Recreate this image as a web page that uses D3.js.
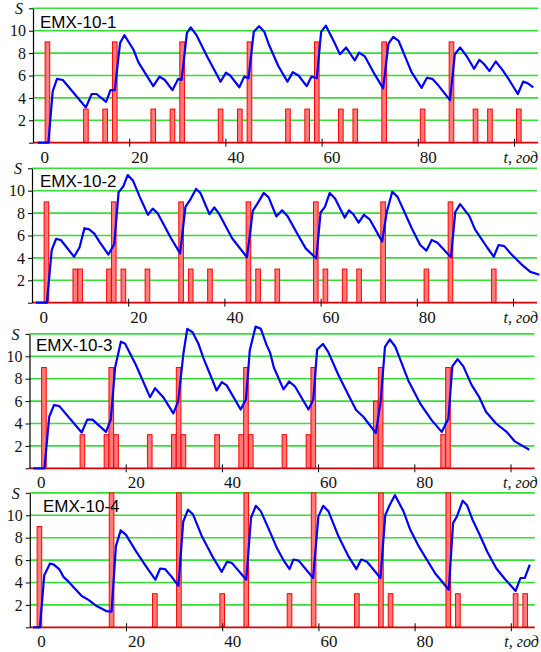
<!DOCTYPE html>
<html>
<head>
<meta charset="utf-8">
<script src="https://cdn.jsdelivr.net/npm/d3@7"></script>
<style>
  body { margin: 0; background: #fff; }
  svg { display: block; }
</style>
</head>
<body>
<svg id="chart" width="541" height="652"></svg>
<script>
// panel names
const names = ["EMX-10-1", "EMX-10-2", "EMX-10-3", "EMX-10-4"];

// axis ticks
const sTicks = [0, 2, 4, 6, 8, 10, 12];
const tTicks = [0, 20, 40, 60, 80, 100];
const tLabels = ["0", "20", "40", "60", "80", "t, год"];

// S(t) curves, [t, S]
const line1 = [[1,0],[3.2,0],[4.1,4.6],[5,5.7],[6.2,5.6],[11,3.15],[12.2,4.35],[13.2,4.35],[15.2,3.65],[16.1,4.7],[17,4.7],[18.1,8.9],[19,9.6],[20.9,8.3],[21.9,7.2],[25,5.05],[26.3,5.9],[27.4,5.6],[29,4.7],[30.2,5.7],[30.9,5.6],[32,9.8],[32.8,10.3],[34,9.6],[36.2,7.7],[39,5.45],[40.1,6.25],[41,6],[42.9,4.95],[43.9,5.9],[44.8,5.75],[45.9,9.9],[47,10.4],[48.1,9.9],[49.1,8.7],[51,6.85],[52.9,5.45],[54,6.3],[55.2,6],[56.9,5.05],[57.9,5.9],[59,5.75],[59.9,9.9],[60.9,10.45],[62.6,9],[63.8,7.9],[65.1,8.5],[66.9,7.35],[67.8,8.05],[69,7.7],[71.1,6.05],[72.8,4.85],[73.9,8.85],[74.9,9.45],[76,9.1],[78.7,6.3],[80.8,4.9],[81.9,5.8],[83,5.7],[84.3,5.1],[86.7,3.8],[87.7,7.9],[88.8,8.5],[90.2,7.7],[91.7,6.6],[92.8,7.4],[93.8,7],[94.9,6.4],[96.2,7.25],[97.6,6.5],[99,5.6],[100.8,4.35],[101.9,5.45],[102.9,5.3],[104,4.95]];
const line2 = [[0.8,0],[3.1,0],[4.1,4.7],[5,5.7],[6,5.6],[8.75,4.1],[9.9,4.95],[10.9,6.65],[11.9,6.55],[13,6.15],[14,5.45],[15.9,4.3],[17.1,5.25],[18,9.85],[19,10.4],[19.9,11.4],[21,10.9],[22.4,9.45],[24.1,7.85],[25.1,8.4],[26.1,8],[28.9,5.75],[30.8,4.4],[31.9,8.55],[32.9,9.2],[34.1,10.15],[35,9.8],[36.9,7.9],[37.9,8.5],[38.8,8],[41.6,5.75],[44.7,4.05],[45.9,8.2],[46.8,8.8],[48.2,9.8],[49.2,9.4],[50.8,7.7],[52,8.25],[53.1,7.75],[55.1,6.2],[56.9,4.85],[59.1,3.95],[60,8.05],[60.9,8.55],[61.9,9.8],[63,9.3],[65,7.6],[65.9,8.25],[66.8,7.9],[67.9,7.15],[69,7.85],[70.2,7.45],[72.8,5.45],[73.75,8.1],[74.9,9.9],[76,9.45],[78.95,6.65],[80.7,5.15],[82,4.65],[83.1,5.6],[84.3,5.35],[87.1,4.05],[88,8.1],[89,8.8],[90.9,7.75],[92.1,6.55],[94.6,4.95],[96,4.1],[97,5.15],[98.2,5.05],[99.6,4.35],[101.7,3.45],[103.6,2.75],[105.5,2.5]];
const line3 = [[0.8,0],[3.1,0],[4.1,4.6],[5.1,5.65],[6.2,5.55],[10.85,3.2],[12,4.35],[13.1,4.35],[15.9,3.25],[16.9,4.35],[17.8,9],[19,11.3],[19.85,11.15],[22.1,9.25],[25.05,6.35],[26.1,7.15],[27.8,6.35],[29.9,4.9],[30.9,5.95],[32,10.25],[32.8,12.45],[33.9,12.15],[35.1,11.15],[36.1,9.9],[38.9,6.95],[40,7.7],[41,7.4],[43.9,5.25],[45,6.15],[45.8,10.55],[47,12.65],[48.1,12.45],[49.3,11],[50,10.35],[50.8,9],[52.8,7.05],[54,7.75],[55.2,7.3],[58,5.25],[59,6.15],[59.8,10.6],[61,11.1],[62.1,10.4],[64.2,8.35],[66.3,6.55],[67.9,5.2],[69.4,4.6],[72,3.15],[73,5.95],[73.9,10.85],[74.9,11.5],[76,10.9],[78.75,7.85],[81.2,5.8],[83.6,4.3],[85.7,3.25],[87.1,4.45],[87.9,9.1],[89,9.75],[90.2,9.1],[91.9,7.45],[93.5,6.35],[94.9,5.05],[97,4],[99.2,3.25],[100.9,2.4],[103.9,1.65]];
const line4 = [[0.7,0],[2.1,0],[3,4.65],[4.2,5.7],[5,5.6],[6.1,5.2],[7,4.5],[8,4.1],[10.8,2.8],[12.2,2.45],[13.9,1.9],[15.9,1.45],[17,1.4],[17.9,7.25],[18.9,8.65],[20,8.25],[22,6.85],[24.3,5.35],[26.1,4.25],[27.1,5.25],[28.1,5.2],[29.5,4.5],[30.9,3.7],[31.9,9.45],[32.9,10.5],[33.9,10.1],[35.8,8.1],[38.2,6.15],[39.9,4.95],[41,5.85],[42,5.75],[45,4.25],[46,9.8],[47,10.85],[48.05,10.35],[50,8.45],[51.4,7.05],[52.8,5.95],[54,5.2],[54.8,6.05],[55.9,5.95],[58.9,4.4],[60,9.9],[61,10.85],[62.1,10.35],[64.2,8.1],[66.1,6.45],[67.9,5.2],[68.9,6.05],[70.1,5.85],[72.9,4.4],[73.9,10],[74.8,10.9],[75.9,11.8],[77.7,10.35],[79.1,8.7],[80.9,7.2],[82.6,6],[84.3,4.8],[87.1,3.35],[88,9.3],[88.8,9.9],[90,11.3],[90.9,10.9],[92,9.65],[93.7,8.1],[95.1,6.75],[97,5.25],[98.9,4.25],[101,3.25],[102,4.4],[102.9,4.4],[103.95,5.6]];

// injection bars, [t, height]
const bars1 = [[3,9],[11,3],[15,3],[17,9],[25,3],[29,3],[31,9],[39,3],[43,3],[45,9],[53,3],[57,3],[59,9],[64,3],[67,3],[73,9],[81,3],[87,9],[92,3],[95,3],[101,3]];
const bars2 = [[3,9],[9,3],[10,3],[16,3],[17,9],[19,3],[24,3],[31,9],[33,3],[37,3],[45,9],[47,3],[51,3],[59,9],[61,3],[65,3],[68,3],[73,9],[82,3],[87,9],[96,3]];
const bars3 = [[3,9],[11,3],[16,3],[17,9],[18,3],[25,3],[30,3],[31,9],[32,3],[39,3],[44,3],[45,9],[46,3],[53,3],[58,3],[59,9],[72,6],[73,9],[86,3],[87,9]];
const bars4 = [[2,9],[17,12],[26,3],[31,12],[40,3],[45,12],[54,3],[59,12],[68,3],[73,12],[75,3],[87,12],[89,3],[101,3],[103,3]];

const lines = [line1, line2, line3, line4];
const bars = [bars1, bars2, bars3, bars4];

// where each panel sits on the page
const layout = [
  { x0: 33,   base: 142.7, tx: 40, ty: 28,  lastDx: -11 },
  { x0: 32,   base: 302.7, tx: 40, ty: 187, lastDx: -10 },
  { x0: 29.5, base: 468.3, tx: 36, ty: 351, lastDx: -8 },
  { x0: 29.8, base: 627.3, tx: 43, ty: 512, lastDx: -7 }
];

const svg = d3.select("#chart");
const pxPerYear = 4.81, tMax = 105, sSpan = 134.4;
const serif = "'Liberation Serif', 'Times New Roman', serif";

layout.forEach((p, i) => {
  const x = d3.scaleLinear().domain([0, tMax]).range([p.x0, p.x0 + pxPerYear * tMax]);
  const y = d3.scaleLinear().domain([0, 12]).range([p.base, p.base - sSpan]);
  const g = svg.append("g");

  // green grid
  g.selectAll(".grid").data(sTicks.slice(1)).enter().append("line")
    .attr("x1", x(0)).attr("x2", x(tMax))
    .attr("y1", d => y(d)).attr("y2", d => y(d))
    .attr("stroke", "#33e033").attr("stroke-width", 1.6);

  // bars
  g.selectAll(".bar").data(bars[i]).enter().append("rect")
    .attr("x", d => x(d[0] - 0.48))
    .attr("width", x(0.96) - x(0))
    .attr("y", d => y(d[1]))
    .attr("height", d => y(0) - y(d[1]))
    .attr("fill", "#ff7a7a").attr("stroke", "#ff0000").attr("stroke-width", 1);

  // red baseline
  g.append("line")
    .attr("x1", x(0)).attr("x2", x(tMax))
    .attr("y1", y(0)).attr("y2", y(0))
    .attr("stroke", "#d80000").attr("stroke-width", 1.8);

  // S curve
  g.append("path").datum(lines[i])
    .attr("d", d3.line().x(d => x(d[0])).y(d => y(d[1])))
    .attr("fill", "none").attr("stroke", "#0000ff")
    .attr("stroke-width", 2.2).attr("stroke-linejoin", "round");

  // y axis
  const ya = g.append("g").attr("transform", `translate(${x(0)},0)`)
    .call(d3.axisLeft(y).tickValues(sTicks).tickSize(4).tickSizeOuter(0).tickPadding(3)
      .tickFormat(d => d === 0 ? "" : d === 12 ? "S" : d));
  ya.select(".domain").attr("stroke", "#000").attr("stroke-width", 1.2);
  ya.selectAll(".tick line").attr("stroke", "#000");
  ya.selectAll(".tick text").attr("font-family", serif).attr("font-size", 16).attr("fill", "#111");
  ya.selectAll(".tick").filter(d => d === 12).select("text")
    .attr("font-style", "italic").attr("x", -10);

  // x axis
  const xa = g.append("g").attr("transform", `translate(0,${y(0)})`)
    .call(d3.axisBottom(x).tickValues(tTicks).tickSize(4)
      .tickFormat((d, k) => tLabels[k]));
  xa.select(".domain").remove();
  xa.selectAll(".tick line").attr("y1", -4).attr("y2", 4).attr("stroke", "#000");
  xa.selectAll(".tick").filter(d => d === 0).select("line").remove();
  xa.selectAll(".tick text")
    .attr("font-family", serif).attr("font-size", d => d === 100 ? 16 : 17).attr("fill", "#111")
    .attr("text-anchor", "start").attr("y", 20).attr("dy", 0)
    .attr("x", d => d === 0 ? 7 : d === 100 ? p.lastDx : 1.5)
    .attr("font-style", d => d === 100 ? "italic" : null);

  // panel title
  g.append("text")
    .attr("x", p.tx).attr("y", p.ty)
    .attr("font-family", "'Liberation Sans', Arial, sans-serif")
    .attr("font-size", 17).attr("fill", "#000")
    .text(names[i]);
});
</script>
</body>
</html>
